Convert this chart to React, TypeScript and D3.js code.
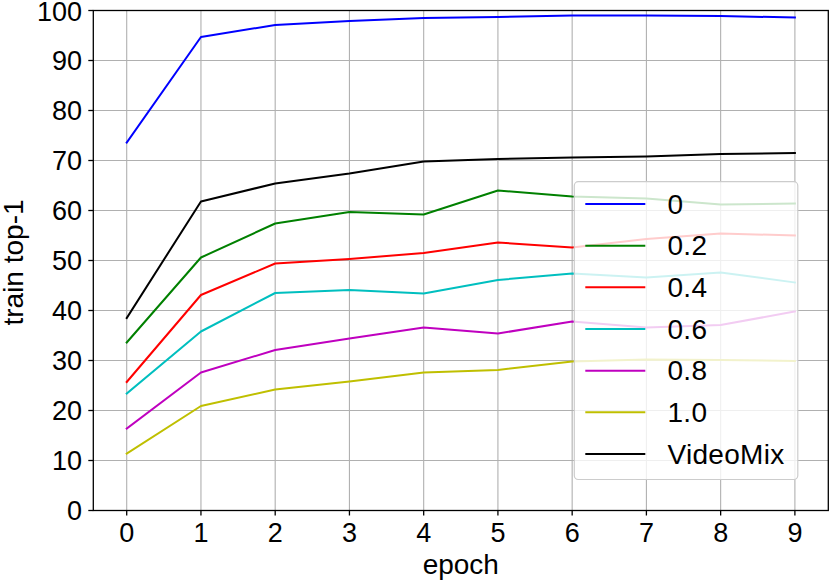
import React from "react";
import * as d3 from "d3";

const epochs = [0, 1, 2, 3, 4, 5, 6, 7, 8, 9];
const seriesNames = ["0", "0.2", "0.4", "0.6", "0.8", "1.0", "VideoMix"];
const seriesColors = ["#0000ff", "#008000", "#ff0000", "#00bfbf", "#bf00bf", "#bfbf00", "#000000"];
const s0 = [73.6, 94.7, 97.1, 97.9, 98.5, 98.7, 99.0, 99.0, 98.9, 98.6];
const s02 = [33.6, 50.6, 57.4, 59.7, 59.2, 64.0, 62.8, 62.4, 61.2, 61.4];
const s04 = [25.7, 43.1, 49.4, 50.3, 51.5, 53.6, 52.6, 54.3, 55.4, 55.0];
const s06 = [23.4, 35.8, 43.5, 44.1, 43.4, 46.1, 47.4, 46.6, 47.6, 45.6];
const s08 = [16.4, 27.6, 32.1, 34.4, 36.6, 35.4, 37.8, 36.6, 37.1, 39.8];
const s10 = [11.4, 20.9, 24.2, 25.8, 27.6, 28.1, 29.8, 30.2, 30.1, 29.9];
const sVideoMix = [38.5, 61.8, 65.4, 67.4, 69.8, 70.3, 70.6, 70.8, 71.3, 71.5];
const seriesValues = [s0, s02, s04, s06, s08, s10, sVideoMix];
const yTicks = [0, 10, 20, 30, 40, 50, 60, 70, 80, 90, 100];
const xLabel = "epoch";
const yLabel = "train top-1";

const W = 830;
const H = 582;
const L = 93.3, R = 828.3, T = 10.5, B = 510.5;
const FONT = "'Liberation Sans', Arial, Helvetica, sans-serif";
const FS = 27;
const FS_LABEL = 28;

export default function App() {
  const x = d3.scaleLinear().domain([-0.45, 9.45]).range([L, R]);
  const y = d3.scaleLinear().domain([0, 100]).range([B, T]);
  const line = d3
    .line<number>()
    .x((_, i) => x(epochs[i]))
    .y((d) => y(d));

  const legX = 574.3, legY = 181.7, legW = 223.5, legH = 297.8;
  const rowY = (i: number) => 204 + i * 41.67;

  return (
    <svg
      width={W}
      height={H}
      style={{ position: "absolute", left: 0, top: 0, background: "#fff" }}
      fontFamily={FONT}
    >
      <rect x={0} y={0} width={W} height={H} fill="#fff" />
      {/* grid */}
      <g stroke="#b0b0b0" strokeWidth={1.1}>
        {epochs.map((e) => (
          <line key={"gx" + e} x1={x(e)} x2={x(e)} y1={T} y2={B} />
        ))}
        {yTicks.map((t) => (
          <line key={"gy" + t} x1={L} x2={R} y1={y(t)} y2={y(t)} />
        ))}
      </g>
      {/* lines */}
      <g fill="none" strokeWidth={2} strokeLinejoin="round" strokeLinecap="square">
        {seriesValues.map((vals, i) => (
          <path key={seriesNames[i]} d={line(vals) || ""} stroke={seriesColors[i]} />
        ))}
      </g>
      {/* spines */}
      <rect x={L} y={T} width={R - L} height={B - T} fill="none" stroke="#000" strokeWidth={1.3} />
      {/* ticks */}
      <g stroke="#000" strokeWidth={1.3}>
        {epochs.map((e) => (
          <line key={"tx" + e} x1={x(e)} x2={x(e)} y1={B} y2={B + 5} />
        ))}
        {yTicks.map((t) => (
          <line key={"ty" + t} x1={L - 5} x2={L} y1={y(t)} y2={y(t)} />
        ))}
      </g>
      <g fontSize={FS} fill="#000">
        {epochs.map((e) => (
          <text key={"lx" + e} x={x(e)} y={541.7} textAnchor="middle">
            {e}
          </text>
        ))}
        {yTicks.map((t) => (
          <text key={"ly" + t} x={82} y={y(t)} dy="0.37em" textAnchor="end">
            {t}
          </text>
        ))}
      </g>
      <g fontSize={FS_LABEL} fill="#000">
        <text x={(L + R) / 2} y={574} textAnchor="middle">
          {xLabel}
        </text>
        <text
          transform={`translate(23.3, ${(T + B) / 2 + 2}) rotate(-90)`}
          textAnchor="middle"
        >
          {yLabel}
        </text>
      </g>
      {/* legend */}
      <rect
        x={legX}
        y={legY}
        width={legW}
        height={legH}
        rx={4}
        ry={4}
        fill="#fff"
        fillOpacity={0.8}
        stroke="#cccccc"
        strokeWidth={1.2}
      />
      {seriesNames.map((name, i) => (
        <g key={"leg" + name}>
          <line x1={585.3} x2={645.3} y1={rowY(i)} y2={rowY(i)} stroke={seriesColors[i]} strokeWidth={2} />
          <text x={667.5} y={rowY(i)} dy="0.34em" fontSize={FS_LABEL} letterSpacing={0.3} fill="#000">
            {name}
          </text>
        </g>
      ))}
    </svg>
  );
}
